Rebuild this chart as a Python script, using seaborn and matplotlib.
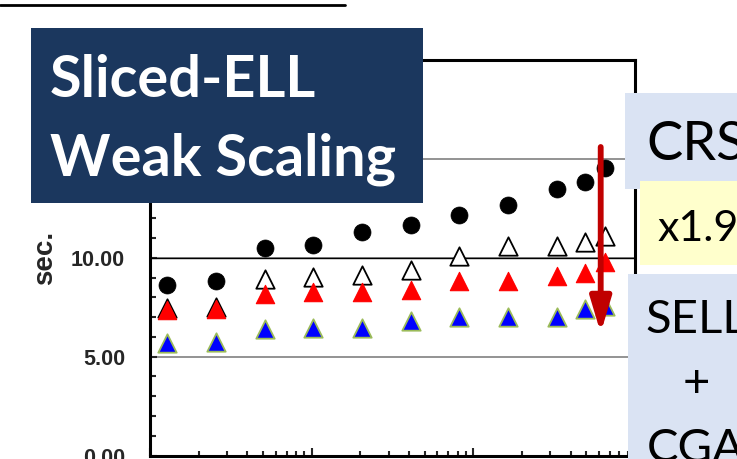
import numpy as np
import pandas as pd
import matplotlib
matplotlib.use('Agg')
import matplotlib.pyplot as plt
import seaborn as sns
from matplotlib.patches import Rectangle
from matplotlib.lines import Line2D

# data (x axis is log, its labels are cut off)
nodes = [1.28, 2.56, 5.12, 10.24, 20.48, 40.96, 81.92, 163.84, 327.68, 491.52, 655.36]
crs = [8.63, 8.80, 10.49, 10.66, 11.28, 11.64, 12.18, 12.69, 13.50, 13.84, 14.55]
sell = [7.47, 7.50, 8.92, 9.05, 9.14, 9.36, 10.07, 10.57, 10.60, 10.78, 11.08]
sell_opt = [7.36, 7.41, 8.17, 8.28, 8.29, 8.37, 8.80, 8.80, 9.09, 9.22, 9.81]
sell_cga = [5.67, 5.75, 6.38, 6.46, 6.43, 6.80, 7.02, 7.02, 7.02, 7.41, 7.55]

yticks = [0, 5, 10, 15, 20]

sns.set_style('white')
plt.rcParams['font.family'] = ['Liberation Sans', 'DejaVu Sans']

W, H = 737, 459
fig = plt.figure(figsize=(W / 100, H / 100), dpi=100)
ax = fig.add_axes([150 / W, 1 - 455.5 / H, 485 / W, 395.5 / H])

# series drawn back to front
sns.scatterplot(x=nodes, y=crs, ax=ax, marker='o', color='black', edgecolor='black',
                s=150, linewidth=0.5, zorder=3)
sns.scatterplot(x=nodes, y=sell, ax=ax, marker='^', color='white', edgecolor='black',
                s=175, linewidth=1.3, zorder=4)
sns.scatterplot(x=nodes, y=sell_opt, ax=ax, marker='^', color='#FF0000', edgecolor='#FF0000',
                s=175, linewidth=0.8, zorder=5)
sns.scatterplot(x=nodes, y=sell_cga, ax=ax, marker='^', color='#0000FF', edgecolor='#9BBB59',
                s=175, linewidth=1.3, zorder=6)

ax.set_xscale('log')
ax.set_xlim(1, 1000)
ax.set_ylim(0, 20)
ax.set_yticks(yticks)
ax.set_yticklabels(['%.2f' % v for v in yticks], fontsize=15.5, fontweight='bold')
ax.yaxis.set_minor_locator(matplotlib.ticker.MultipleLocator(1))
ax.tick_params(axis='y', which='both', direction='in', left=True, width=1.5, pad=18)
ax.tick_params(axis='y', which='major', length=5)
ax.tick_params(axis='y', which='minor', length=4)
ax.tick_params(axis='x', which='both', direction='in', bottom=True, labelbottom=False, width=1.5)
ax.tick_params(axis='x', which='major', length=6)
ax.tick_params(axis='x', which='minor', length=3.5)

# gridlines: grey, with the 10 s line in black
ax.grid(axis='y', which='major', color='#808080', lw=1.2)
ax.grid(axis='x', visible=False)
ax.axhline(10, color='black', lw=1.0, zorder=1)

for s in ax.spines.values():
    s.set_color('black')
    s.set_linewidth(2.2)

ax.set_ylabel('sec.', fontsize=20, fontweight='bold')
ax.yaxis.set_label_coords(-0.19, 0.5)


def box(x0, y0, x1, y1, color):
    fig.add_artist(Rectangle((x0 / W, 1 - y1 / H), (x1 - x0) / W, (y1 - y0) / H,
                             transform=fig.transFigure, facecolor=color, edgecolor='none',
                             zorder=10))


def label(x, y, txt, size, **kw):
    fig.text(x / W, 1 - y / H, txt, fontsize=size, family=['Lato', 'DejaVu Sans'],
             va='baseline', zorder=11, **kw)


# underline of the slide title above (title itself is cropped)
fig.add_artist(Line2D([0, 345 / W], [1 - 5.3 / H] * 2, color='black', lw=2.0,
                      transform=fig.transFigure))

box(31, 27.7, 423, 202.7, '#1B375E')
label(50, 97, 'Sliced-ELL', 41.5, color='white', fontweight='bold')
label(50, 175, 'Weak Scaling', 41.5, color='white', fontweight='bold')

box(625, 93, 740, 189, '#DAE3F3')
label(646, 160, 'CRS', 39, color='black')

box(640, 181, 740, 265, '#FFFFCC')
label(657, 241, 'x1.9', 31, color='black')

box(628, 274, 740, 462, '#DAE3F3')
label(696, 333, 'SELL', 34, color='black', ha='center')
label(696, 397, '+', 34, color='black', ha='center')
label(696, 462, 'CGA', 34, color='black', ha='center')

# red arrow CRS -> SELL+CGA
ax.annotate('', xy=(600.7, H - 333), xytext=(600.7, H - 147),
            xycoords='figure pixels', textcoords='figure pixels',
            arrowprops=dict(arrowstyle='-|>,head_length=1.4,head_width=0.42',
                            mutation_scale=15, lw=4.2, color='#C00000',
                            shrinkA=0, shrinkB=0), zorder=12)

fig.savefig('out.png', dpi=100)
